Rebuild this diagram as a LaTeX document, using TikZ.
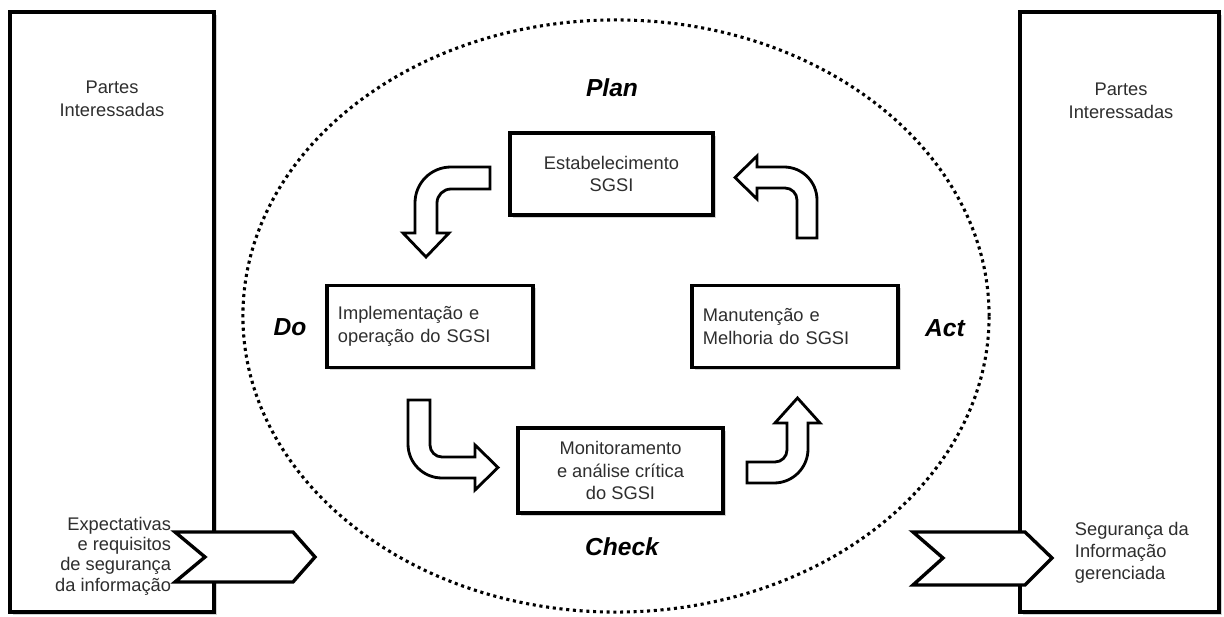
\documentclass[tikz,border=0pt]{standalone}
\usepackage{fontspec}
\setmainfont{Liberation Sans}
\usetikzlibrary{shadows}
\definecolor{ink}{HTML}{2E2E2E}

\begin{document}
\begin{tikzpicture}[x=0.025cm, y=-0.025cm, every node/.style={font=\fontsize{13}{16}\selectfont, text=ink}, panel/.style={draw, line width=3pt, fill=white, drop shadow={shadow xshift=2pt, shadow yshift=-2pt, opacity=.35}}, stage/.style={draw, line width=2.6pt, fill=white, minimum width=5.1cm, minimum height=2.05cm, align=center, drop shadow={shadow xshift=2pt, shadow yshift=-2pt, opacity=.35}}, leftstage/.style={stage, text width=4.6cm, inner xsep=0.28cm, align=left}, phase/.style={font=\fontsize{17.5}{20}\selectfont\bfseries\itshape, text=black}, bent/.style={draw, line width=2pt, fill=white}, chevron/.style={draw, line width=2.4pt, fill=white}, cycleline/.style={line width=2.2pt, dash pattern=on 2.2pt off 2.6pt}]
\useasboundingbox (0,0) rectangle (1224,617);
\draw[panel] (10,12) rectangle (214,612);
\draw[panel] (1020,12) rectangle (1219,612);
\node[align=center] (stakeL) at (112,99) {Partes\\Interessadas};
\node[align=center] (stakeR) at (1121,101) {Partes\\Interessadas};
\draw[cycleline] (616,316) ellipse [x radius=9.325cm, y radius=7.4cm];
\node[stage, minimum width=5.08cm] (plan) at (611.5,174) {Estabelecimento\\SGSI};
\node[leftstage] (do) at (430,326.5) {Implementação e\\operação do SGSI};
\node[leftstage] (act) at (795,326.5) {Manutenção e\\Melhoria do SGSI};
\node[stage, minimum width=5.12cm, minimum height=2.12cm] (check) at (620.5,470.5) {Monitoramento\\e análise crítica\\do SGSI};
\node[phase] (planlbl) at (612,88) {Plan};
\node[phase] (dolbl) at (290,327) {Do};
\node[phase] (actlbl) at (945,328) {Act};
\node[phase] (checklbl) at (622,547) {Check};
\draw[bent] (490,167) -- (451,167) .. controls (431.1,167) and (415,182.9) .. (415,203) -- (415,233) -- (403,233) -- (426,257) -- (449,233) -- (437,233) -- (437,203) .. controls (437,195.3) and (443.3,189) .. (451,189) -- (490,189) -- cycle;
\draw[bent] (797,238) -- (797,200) .. controls (797,193.4) and (791.6,188) .. (785,188) -- (757,188) -- (757,199) -- (735,177.5) -- (757,156) -- (757,167) -- (784,167) .. controls (802.2,167) and (817,181.8) .. (817,200) -- (817,238) -- cycle;
\draw[bent] (408,400) -- (408,444) .. controls (408,462.8) and (423.2,478) .. (442,478) -- (475,478) -- (475,490) -- (498,467.5) -- (475,445) -- (475,457) -- (442,457) .. controls (435.4,457) and (430,451.6) .. (430,445) -- (430,400) -- cycle;
\draw[bent] (747,462) -- (775,462) .. controls (781.6,462) and (787,456.6) .. (787,450) -- (787,423) -- (775,423) -- (797.5,398) -- (820,423) -- (808,423) -- (808,449) .. controls (808,467.8) and (792.8,483) .. (774,483) -- (747,483) -- cycle;
\draw[chevron] (175,532) -- (293,532) -- (315,557) -- (293,582) -- (175,582) -- (205,557) -- cycle;
\draw[chevron] (913,532) -- (1025,532) -- (1052,558) -- (1025,585) -- (913,585) -- (943,558) -- cycle;
\node[anchor=east, align=right, font=\fontsize{13}{14.5}\selectfont] (needs) at (176,556) {Expectativas\\e requisitos\\de segurança\\da informação};
\node[anchor=west, align=left, font=\fontsize{13}{15.5}\selectfont] (result) at (1070,553) {Segurança da\\Informação\\gerenciada};
\end{tikzpicture}
\end{document}
